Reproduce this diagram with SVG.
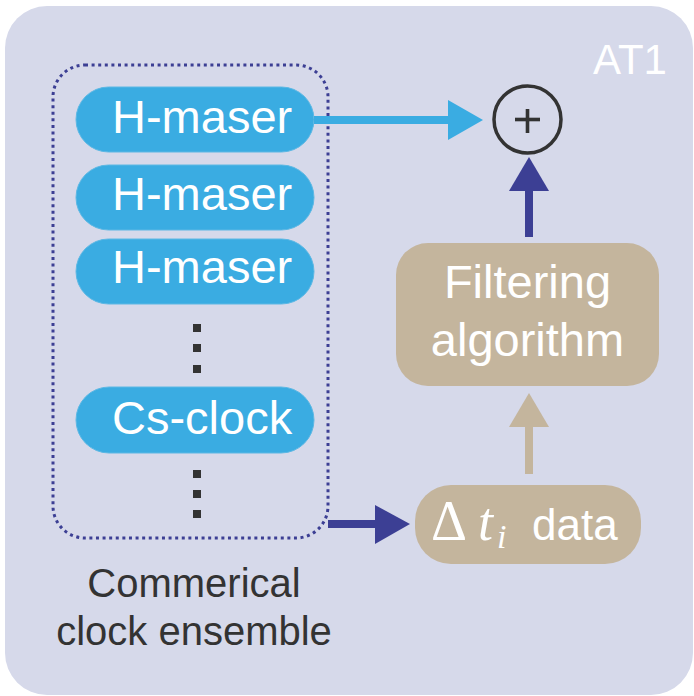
<svg xmlns="http://www.w3.org/2000/svg" width="694" height="696" viewBox="0 0 694 696">
  <defs>
    <style>
      .pill { fill: #3aace2; stroke: #5cb8e4; stroke-width: 1; }
      .pilltxt { font-family: "Liberation Sans", Arial, sans-serif; font-size: 47px; fill: #ffffff; }
      .tan { fill: #c4b59d; }
      .tantxt { font-family: "Liberation Sans", Arial, sans-serif; font-size: 47px; fill: #ffffff; text-anchor: middle; }
      .dot { fill: #333333; }
      .label { font-family: "Liberation Sans", Arial, sans-serif; font-size: 40px; fill: #333333; text-anchor: middle; }
    </style>
  </defs>
  <rect x="5" y="6" width="688" height="689" rx="42" ry="42" fill="#d6d9ea"/>
  <text x="630" y="74" font-family="Liberation Sans, Arial, sans-serif" font-size="42" fill="#ffffff" text-anchor="middle">AT1</text>

  <g id="ensemble">
    <rect x="53" y="65" width="275" height="473" rx="32" ry="32" fill="none" stroke="#3c3f94" stroke-width="3" stroke-dasharray="3 3.6"/>
    <text class="label" x="194" y="597">Commerical</text>
    <text class="label" x="194" y="645">clock ensemble</text>
  </g>
  <g id="hmaser1">
    <rect class="pill" x="76" y="87" width="238" height="65" rx="32.5"/>
    <text class="pilltxt" x="112" y="133">H-maser</text>
  </g>
  <g id="hmaser2">
    <rect class="pill" x="76" y="165" width="238" height="65" rx="32.5"/>
    <text class="pilltxt" x="112" y="210">H-maser</text>
  </g>
  <g id="hmaser3">
    <rect class="pill" x="76" y="239" width="238" height="65" rx="32.5"/>
    <text class="pilltxt" x="112" y="283">H-maser</text>
  </g>
  <g id="dots1">
    <rect class="dot" x="193" y="324" width="8" height="8"/>
    <rect class="dot" x="193" y="344" width="8" height="8"/>
    <rect class="dot" x="193" y="365" width="8" height="8"/>
  </g>
  <g id="csclock">
    <rect class="pill" x="76" y="387" width="238" height="66" rx="33"/>
    <text class="pilltxt" x="112" y="434">Cs-clock</text>
  </g>
  <g id="dots2">
    <rect class="dot" x="193" y="470" width="8" height="8"/>
    <rect class="dot" x="193" y="490" width="8" height="8"/>
    <rect class="dot" x="193" y="510" width="8" height="8"/>
  </g>

  <g id="sum">
    <circle cx="527.5" cy="119.5" r="33.5" fill="none" stroke="#333333" stroke-width="3.5"/>
    <rect x="515" y="119.5" width="25" height="3.6" transform="translate(0,-1.8)" fill="#333333"/>
    <rect x="525.7" y="109" width="3.6" height="24" fill="#333333"/>
  </g>
  <g id="filter">
    <rect class="tan" x="396" y="243" width="263" height="143" rx="32"/>
    <text class="tantxt" x="527.5" y="298">Filtering</text>
    <text class="tantxt" x="527.5" y="356">algorithm</text>
  </g>
  <g id="data">
    <rect class="tan" x="415" y="485" width="226" height="79" rx="36"/>
    <text x="431" y="540" font-family="Liberation Serif, Times New Roman, serif" font-size="56" fill="#ffffff">Δ</text>
    <text x="478" y="540" font-family="Liberation Serif, Times New Roman, serif" font-style="italic" font-size="54" fill="#ffffff">t</text>
    <text x="497" y="548" font-family="Liberation Serif, Times New Roman, serif" font-style="italic" font-size="34" fill="#ffffff">i</text>
    <text x="532" y="540" font-family="Liberation Sans, Arial, sans-serif" font-size="44" fill="#ffffff">data</text>
  </g>

  <g id="connectors">
    <rect x="314" y="116" width="136" height="8" fill="#3aace2"/>
    <polygon points="448,100 483,120 448,140" fill="#3aace2"/>
    <rect x="525" y="188" width="8" height="49" fill="#3c3f94"/>
    <polygon points="509,191 529,157 549,191" fill="#3c3f94"/>
    <rect x="525" y="424" width="8" height="50" fill="#c4b59d"/>
    <polygon points="509,427 529,393 549,427" fill="#c4b59d"/>
    <rect x="328" y="520" width="49" height="8" fill="#3c3f94"/>
    <polygon points="375,505 410,524 375,544" fill="#3c3f94"/>
  </g>
</svg>
